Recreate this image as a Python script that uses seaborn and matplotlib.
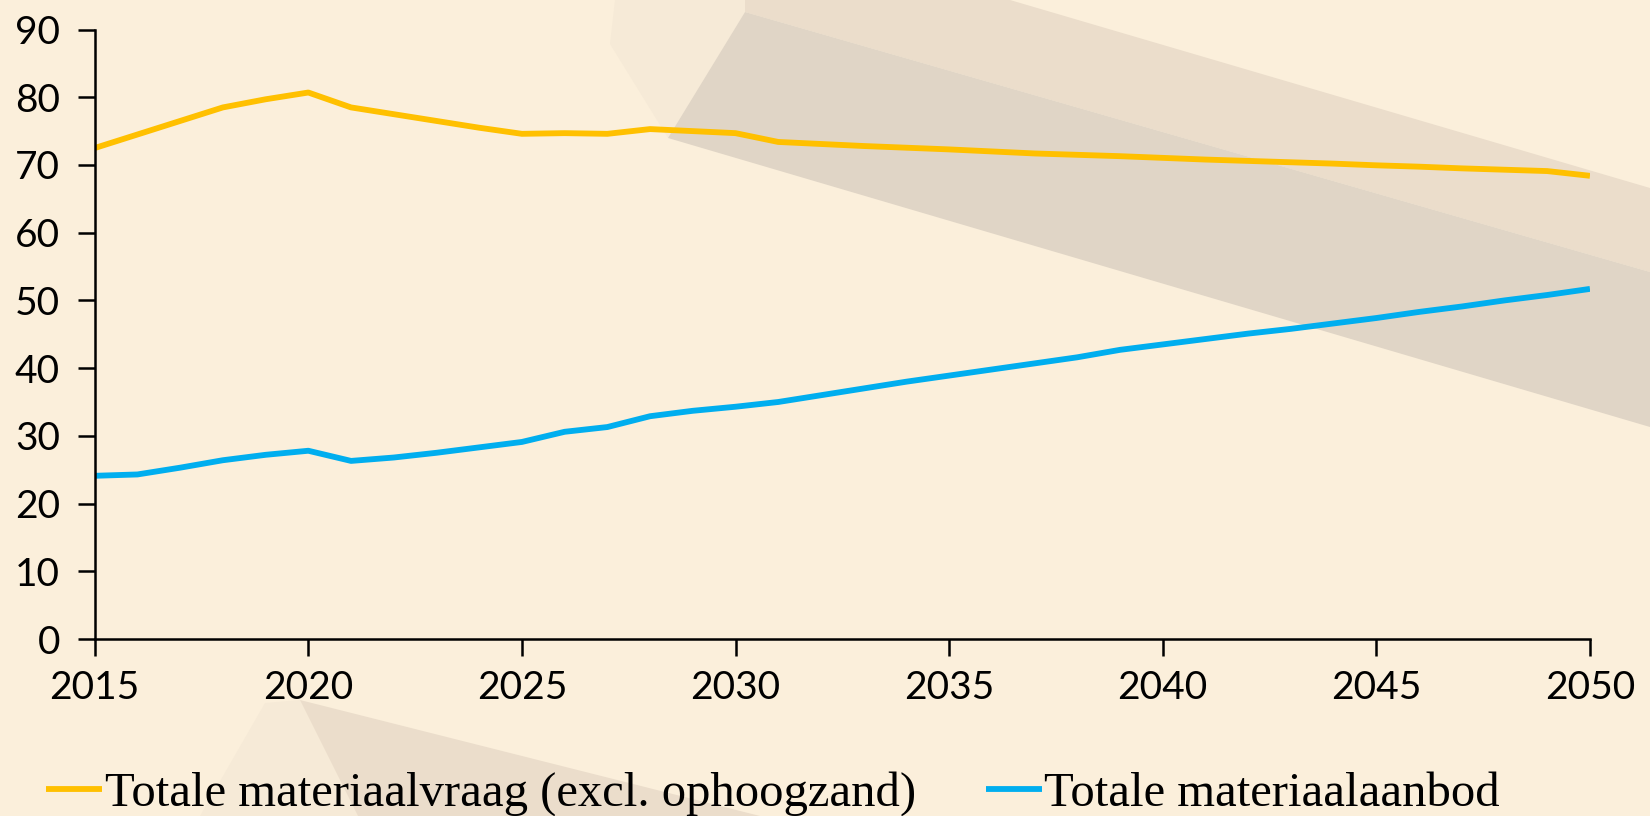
# Materiaalvraag en -aanbod 2015-2050

import pandas as pd
import seaborn as sns
import matplotlib.pyplot as plt
from matplotlib.patches import Polygon

# -------------------------------
# Data
# -------------------------------
years = list(range(2015, 2051))

vraag = [72.5, 74.5, 76.5, 78.5, 79.7, 80.7, 78.5, 77.5, 76.5, 75.5,
         74.6, 74.7, 74.6, 75.3, 75.0, 74.7, 73.4, 73.1, 72.8, 72.55,
         72.3, 72.0, 71.7, 71.5, 71.3, 71.05, 70.8, 70.6, 70.4, 70.2,
         69.95, 69.75, 69.5, 69.3, 69.1, 68.4]

aanbod = [24.1, 24.3, 25.3, 26.4, 27.2, 27.8, 26.3, 26.8, 27.5, 28.3,
          29.1, 30.6, 31.3, 32.9, 33.7, 34.3, 35.0, 36.0, 37.0, 38.0,
          38.9, 39.8, 40.7, 41.6, 42.7, 43.5, 44.3, 45.1, 45.8, 46.6,
          47.4, 48.3, 49.1, 50.0, 50.8, 51.7]

series_names = ["Totale materiaalvraag (excl. ophoogzand)", "Totale materiaalaanbod"]
series_colors = ["#FFC000", "#00AEEF"]

x_ticks = [2015, 2020, 2025, 2030, 2035, 2040, 2045, 2050]
y_ticks = [0, 10, 20, 30, 40, 50, 60, 70, 80, 90]

df = pd.DataFrame({
    "Jaar": years * 2,
    "Waarde": vraag + aanbod,
    "Reeks": [series_names[0]] * len(years) + [series_names[1]] * len(years),
})

# -------------------------------
# Style
# -------------------------------
bg = "#FBEFDB"
sns.set_theme(style="ticks")
plt.rcParams["font.family"] = ["Lato", "DejaVu Sans"]

fig = plt.figure(figsize=(16.5, 8.16), dpi=100, facecolor=bg)

# decorative background shapes (pixel coords of the figure)
deco = fig.add_axes([0, 0, 1, 1], zorder=0)
deco.set_xlim(0, 1650)
deco.set_ylim(816, 0)
deco.axis("off")
deco.set_facecolor(bg)
shapes = [
    ([(615, 0), (745, 0), (745, 12), (668, 138), (610, 44)], "#F6EAD7"),
    ([(745, 0), (1010, 0), (1650, 188), (1650, 272), (745, 12)], "#EBDDCB"),
    ([(745, 12), (1650, 272), (1650, 427), (668, 138)], "#E0D5C6"),
    ([(265, 703), (300, 700), (358, 816), (200, 816)], "#F6EAD7"),
    ([(300, 700), (760, 816), (358, 816)], "#EBDDCB"),
]
for pts, col in shapes:
    deco.add_patch(Polygon(pts, closed=True, facecolor=col, edgecolor="none"))

# main chart
ax = fig.add_axes([0.0574, 0.2169, 0.9062, 0.7469], zorder=1)
ax.set_facecolor("none")

sns.lineplot(data=df, x="Jaar", y="Waarde", hue="Reeks", palette=series_colors,
             linewidth=4.2, ax=ax)
for line in ax.lines:
    line.set_solid_capstyle("butt")

ax.set_xlim(2015, 2050)
ax.set_ylim(0, 90)
ax.set_xticks(x_ticks)
ax.set_yticks(y_ticks)
ax.set_xlabel("")
ax.set_ylabel("")
sns.despine(ax=ax)
for side in ["left", "bottom"]:
    ax.spines[side].set_linewidth(1.8)
    ax.spines[side].set_color("black")
ax.tick_params(axis="both", length=12, width=1.8, color="black",
               labelsize=28, labelcolor="black")
ax.tick_params(axis="y", pad=13)
ax.tick_params(axis="x", pad=10)

handles, labels = ax.get_legend_handles_labels()
leg = ax.legend(handles, labels, loc="center left",
                bbox_to_anchor=(0.028, 0.027), bbox_transform=fig.transFigure,
                ncol=2, frameon=False, labelcolor="black",
                prop={"family": "Liberation Serif", "size": 35},
                handlelength=1.15, handletextpad=0.05, columnspacing=1.45,
                borderpad=0, borderaxespad=0)
for h in leg.get_lines():
    h.set_linewidth(4.2)

fig.savefig("out.png", dpi=100, facecolor=bg)
plt.close()
